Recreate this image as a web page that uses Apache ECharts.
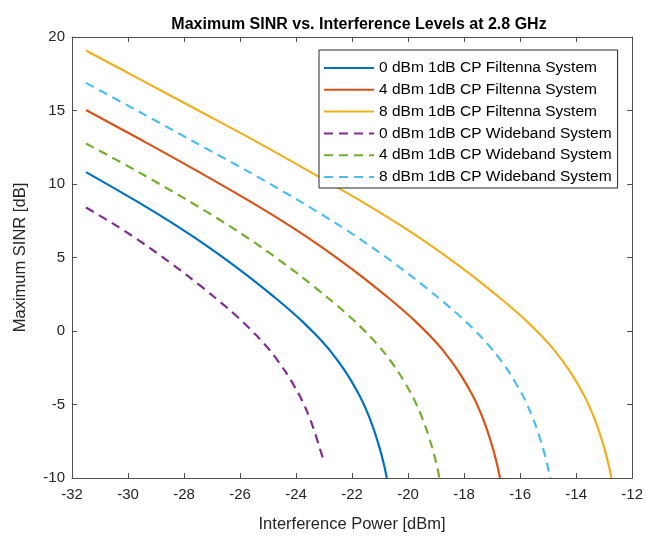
<!DOCTYPE html>
<html>
<head>
<meta charset="utf-8">
<script src="https://cdn.jsdelivr.net/npm/echarts@6/dist/echarts.min.js"></script>
<style>html,body{margin:0;padding:0;background:#fff}#c{width:646px;height:538px}</style>
</head>
<body>
<div id="c"></div>
<script>
// Data: [interference power dBm, max SINR dB]
const filtenna0 = [[-31.5,10.81],[-29.76,8.9],[-28.26,7.15],[-27.06,5.62],[-25.76,3.8],[-24.76,2.28],[-24.26,1.48],[-23.76,0.62],[-23.26,-0.33],[-22.76,-1.4],[-22.26,-2.7],[-21.76,-4.3],[-21.51,-5.3],[-21.26,-6.5],[-21.01,-8.0],[-20.86,-9.1],[-20.76,-10]];
const filtenna4 = [[-31.5,15.03],[-29.5,12.97],[-27.46,10.81],[-25.72,8.9],[-24.22,7.15],[-23.02,5.62],[-21.72,3.8],[-20.72,2.28],[-20.22,1.48],[-19.72,0.62],[-19.22,-0.33],[-18.72,-1.4],[-18.22,-2.7],[-17.72,-4.3],[-17.47,-5.3],[-17.22,-6.5],[-16.97,-8.0],[-16.82,-9.1],[-16.72,-10]];
const filtenna8 = [[-31.5,19.08],[-29.5,17.05],[-27.52,15.03],[-25.5,12.97],[-23.48,10.81],[-21.74,8.9],[-20.24,7.15],[-19.04,5.62],[-17.74,3.8],[-16.74,2.28],[-16.24,1.48],[-15.74,0.62],[-15.24,-0.33],[-14.74,-1.4],[-14.24,-2.7],[-13.74,-4.3],[-13.49,-5.3],[-13.24,-6.5],[-12.99,-8.0],[-12.84,-9.1],[-12.74,-10]];
const wideband0 = [[-31.5,8.4],[-30.4,7.15],[-29.2,5.62],[-27.9,3.8],[-26.9,2.28],[-26.4,1.48],[-25.9,0.62],[-25.4,-0.33],[-24.9,-1.4],[-24.4,-2.7],[-23.9,-4.3],[-23.65,-5.3],[-23.4,-6.5],[-23.15,-8.0],[-23.05,-8.6]];
const wideband4 = [[-31.5,12.76],[-29.62,10.81],[-27.88,8.9],[-26.38,7.15],[-25.18,5.62],[-23.88,3.8],[-22.88,2.28],[-22.38,1.48],[-21.88,0.62],[-21.38,-0.33],[-20.88,-1.4],[-20.38,-2.7],[-19.88,-4.3],[-19.63,-5.3],[-19.38,-6.5],[-19.13,-8.0],[-18.98,-9.1],[-18.88,-10]];
const wideband8 = [[-31.5,16.88],[-29.71,15.03],[-27.7,12.93],[-25.67,10.81],[-23.93,8.9],[-22.43,7.15],[-21.23,5.62],[-19.93,3.8],[-18.93,2.28],[-18.43,1.48],[-17.93,0.62],[-17.43,-0.33],[-16.93,-1.4],[-16.43,-2.7],[-15.93,-4.3],[-15.68,-5.3],[-15.43,-6.5],[-15.18,-8.0],[-15.03,-9.1],[-14.93,-10]];
const seriesNames = ['0 dBm 1dB CP Filtenna System','4 dBm 1dB CP Filtenna System','8 dBm 1dB CP Filtenna System','0 dBm 1dB CP Wideband System','4 dBm 1dB CP Wideband System','8 dBm 1dB CP Wideband System'];
const xTicks = {min:-32, max:-12, step:2};
const yTicks = {min:-10, max:20, step:5};

const colors = ['#0072BD','#D95319','#EDB120','#7E2F8E','#77AC30','#4DBEEE'];
const datasets = [filtenna0, filtenna4, filtenna8, wideband0, wideband4, wideband8];
const font = "'Liberation Sans', Arial, Helvetica, sans-serif";
const axisColor = '#4d4d4d';
const txt = '#262626';

const chart = echarts.init(document.getElementById('c'), null, {renderer:'canvas'});
const series = datasets.map((d,i)=>({
  name: seriesNames[i], type:'line', data:d, symbol:'none', showSymbol:false,
  smooth:0.3,
  xAxisIndex:0, yAxisIndex:0, clip:true,
  lineStyle:{color:colors[i], width:2.2, type: i<3 ? 'solid' : [9,6]},
  itemStyle:{color:colors[i]}
}));
const tickCommon = {show:true, inside:true, length:5, lineStyle:{color:axisColor}};
chart.setOption({
  animation:false,
  backgroundColor:'#fff',
  title:{text:'Maximum SINR vs. Interference Levels at 2.8 GHz', left:354, top:12, textAlign:'center',
    textStyle:{fontFamily:font, fontWeight:'bold', fontSize:16, color:'#000'}},
  grid:{left:72, right:13, top:37, bottom:56, containLabel:false},
  legend:{
    orient:'vertical', left:319, top:50, data:seriesNames,
    itemWidth:50, itemHeight:12, itemGap:5.8,
    padding:[10,6,3,4], borderColor:'#262626', borderWidth:1, backgroundColor:'#fff',
    itemStyle:{opacity:0, color:'rgba(0,0,0,0)', borderWidth:0},
    textStyle:{fontFamily:font, fontSize:15.5, color:'#000'}
  },
  xAxis:[
    {type:'value', min:xTicks.min, max:xTicks.max, interval:xTicks.step, position:'bottom',
     name:'Interference Power [dBm]', nameLocation:'middle', nameGap:38,
     nameTextStyle:{fontFamily:font, fontSize:16.5, color:txt},
     axisLine:{show:true, onZero:false, lineStyle:{color:axisColor}}, axisTick:tickCommon,
     axisLabel:{fontFamily:font, fontSize:15, color:txt, margin:9}, splitLine:{show:false}},
    {type:'value', min:xTicks.min, max:xTicks.max, interval:xTicks.step, position:'top',
     axisLine:{show:true, onZero:false, lineStyle:{color:axisColor}}, axisTick:tickCommon,
     axisLabel:{show:false}, splitLine:{show:false}}
  ],
  yAxis:[
    {type:'value', min:yTicks.min, max:yTicks.max, interval:yTicks.step, position:'left',
     name:'Maximum SINR [dB]', nameLocation:'middle', nameGap:43,
     nameTextStyle:{fontFamily:font, fontSize:16.5, color:txt},
     axisLine:{show:true, onZero:false, lineStyle:{color:axisColor}}, axisTick:tickCommon,
     axisLabel:{fontFamily:font, fontSize:15, color:txt, margin:7}, splitLine:{show:false}},
    {type:'value', min:yTicks.min, max:yTicks.max, interval:yTicks.step, position:'right',
     axisLine:{show:true, onZero:false, lineStyle:{color:axisColor}}, axisTick:tickCommon,
     axisLabel:{show:false}, splitLine:{show:false}}
  ],
  series: series
});
</script>
</body>
</html>
